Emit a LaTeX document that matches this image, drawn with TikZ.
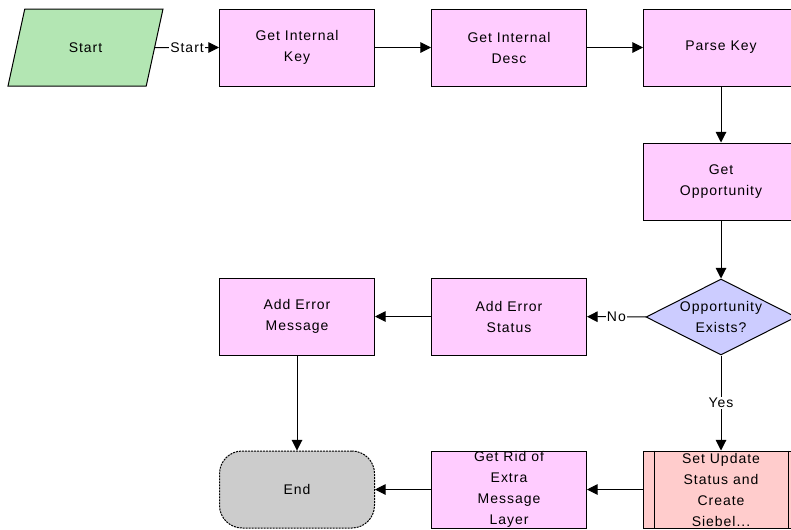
\documentclass[tikz,border=0pt]{standalone}
\usepackage{fontspec}
\setmainfont{Liberation Sans}[LetterSpace=7]
\usetikzlibrary{arrows.meta,shapes.geometric}

\definecolor{startgreen}{HTML}{B3E6B3}
\definecolor{taskpink}{HTML}{FFCCFF}
\definecolor{askblue}{HTML}{CCCCFF}
\definecolor{subred}{HTML}{FFCCCC}
\definecolor{stopgray}{HTML}{CCCCCC}

\begin{document}
\begin{tikzpicture}[x=0.75pt, y=-0.75pt, line width=0.75pt,
		>={Triangle[length=8pt,width=8pt]},
		font=\fontsize{10.5}{15.75}\selectfont,
		task/.style={draw, fill=taskpink, minimum width=116.25pt,
				minimum height=57.75pt, inner sep=0pt, align=center},
		lbl/.style={fill=white, inner sep=1pt}]
	\useasboundingbox (0,0) rectangle (791,529);

	\node [draw, fill=startgreen, trapezium, trapezium left angle=65,
		trapezium right angle=115, trapezium stretches=true,
		minimum width=116.25pt, minimum height=57.75pt, inner sep=0pt]
	(start) at (85.5,47.5) {Start};

	\node [task] (key) at (297,47.5) {Get Internal\\Key};
	\node [task] (desc) at (509,47.5) {Get Internal\\Desc};
	\node [task] (parse) at (721,47.5) {Parse Key};
	\node [task] (getopp) at (721,181.5) {Get\\Opportunity};

	\node [draw, fill=askblue, diamond, aspect=2, inner sep=0pt,
		minimum width=112.5pt, minimum height=57pt, align=center]
	(exists) at (721,317) {Opportunity\\Exists?};

	\node [task] (errstatus) at (509,316.5) {Add Error\\Status};
	\node [task] (errmsg) at (297,316.5) {Add Error\\Message};

	\node [task, fill=subred] (setupd) at (721,489.5)
	{Set Update\\Status and\\Create\\Siebel...};
	\draw ([xshift=8.25pt]setupd.north west) -- ([xshift=8.25pt]setupd.south west);
	\draw ([xshift=-8.25pt]setupd.north east) -- ([xshift=-8.25pt]setupd.south east);

	\node [task] (getrid) at (509,489.5) {Get Rid of\\Extra\\Message\\Layer};

	\node [draw, fill=stopgray, rounded corners=17pt, dash pattern=on 1.5pt off 0.75pt,
		minimum width=116.25pt, minimum height=57.75pt] (stop) at (297,489.5) {End};

	\draw[->] (start.east) -- node[lbl] {Start} (key);
	\draw[->] (key) -- (desc);
	\draw[->] (desc) -- (parse);
	\draw[->] (parse) -- (getopp);
	\draw[->] (getopp) -- (exists);
	\draw[->] (exists) -- node[lbl] {No} (errstatus);
	\draw[->] (exists) -- node[lbl] {Yes} (setupd);
	\draw[->] (errstatus) -- (errmsg);
	\draw[->] (errmsg) -- (stop);
	\draw[->] (setupd) -- (getrid);
	\draw[->] (getrid) -- (stop);
\end{tikzpicture}
\end{document}
